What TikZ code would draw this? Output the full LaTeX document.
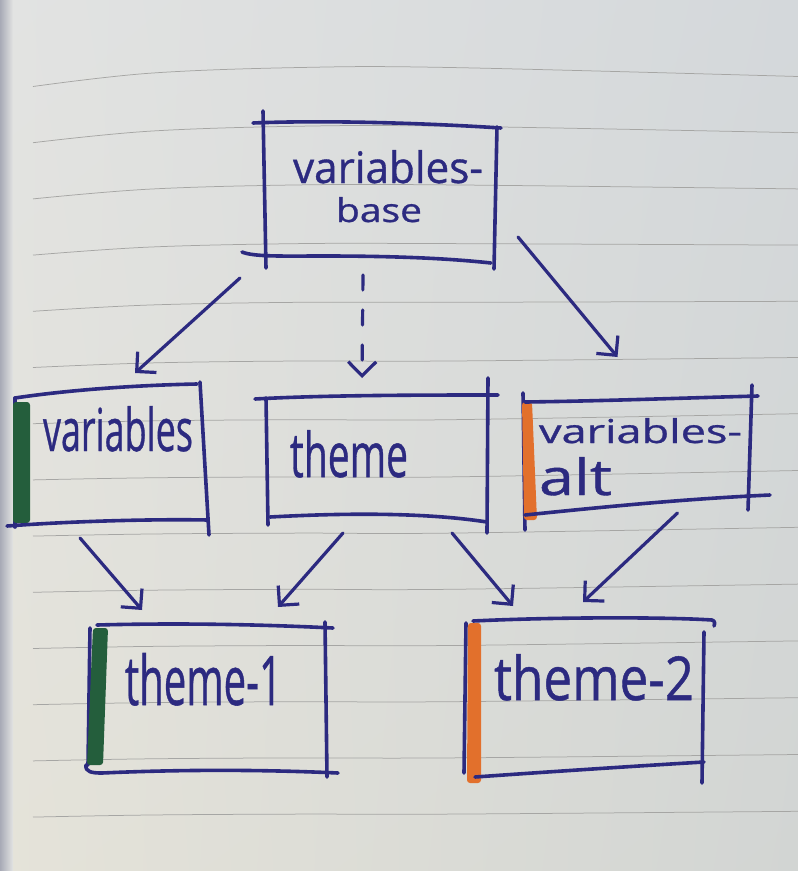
\documentclass[tikz,border=0pt]{standalone}
\usepackage{fontspec}
\usepackage{graphicx}
\setmainfont{Open Sans}
\newfontfamily\penfont[FakeBold=0.8]{Open Sans}
\usetikzlibrary{arrows.meta,calc,shadings}

\definecolor{ink}{RGB}{44,42,128}
\definecolor{markgreen}{RGB}{36,94,60}
\definecolor{markorange}{RGB}{226,112,44}
\definecolor{rulegray}{RGB}{166,166,164}
\definecolor{paperUL}{RGB}{226,227,226}
\definecolor{paperUR}{RGB}{212,216,219}
\definecolor{paperLL}{RGB}{229,227,217}
\definecolor{paperLR}{RGB}{210,213,211}
\definecolor{pageedge}{RGB}{168,170,182}

\begin{document}
\begin{tikzpicture}[x=1pt,y=-1pt,
  frame/.style={rectangle,inner sep=0pt,outer sep=0pt,draw=none},
  pen/.style={draw=ink,line width=3.6pt,line cap=round,line join=round},
  arr/.style={draw=ink,line width=3.2pt,line cap=round,
    -{Straight Barb[length=14pt,width=28pt]}},
  dasharr/.style={arr,dash pattern=on 15pt off 20pt},
  ruling/.style={draw=rulegray,line width=0.75pt},
  word/.style={inner sep=0pt,outer sep=0pt,anchor=base west,text=ink,font=\penfont},
  marker/.style={line join=round,rounded corners=3pt}
]
% paper
\useasboundingbox (0,0) rectangle (798,871);
\shade[upper left=paperUL,upper right=paperUR,lower left=paperLL,lower right=paperLR]
  (0,0) rectangle (798,871);
\shade[left color=pageedge,right color=paperUL] (0,0) rectangle (13,871);

% ruled lines
\foreach \k in {0,...,13} {
  \pgfmathsetmacro\yl{86.5+56.2*\k}
  \pgfmathsetmacro\dd{max(3,19-2.5*\k)}
  \pgfmathsetmacro\rr{(\k<=6) ? 10 : 10-(\k-6)*0.6}
  \draw[ruling] plot[smooth,tension=0.6] coordinates
    {(33,\yl) (150,\yl-0.7*\dd) (300,\yl-\dd) (450,\yl-\dd) (798,\yl-\rr)};
}

% box frames
\node[frame,minimum width=230pt,minimum height=135pt] (vb) at (379,192.5) {};
\node[frame,minimum width=190pt,minimum height=132pt] (v) at (110,457) {};
\node[frame,minimum width=222pt,minimum height=123pt] (t) at (377,458.5) {};
\node[frame,minimum width=229pt,minimum height=106pt] (va) at (637.5,452) {};
\node[frame,minimum width=235pt,minimum height=146pt] (t1) at (209.5,699) {};
\node[frame,minimum width=238pt,minimum height=150pt] (t2) at (585,695) {};

% variables-base
\begin{scope}[shift={(vb.north west)}]
  \draw[pen] (-1,-14) -- (2,143);
  \draw[pen] (-11,-2) .. controls (60,-5) and (160,-2) .. (237,3);
  \draw[pen] (233,2) -- (230,144);
  \draw[pen] (-22,127) .. controls (-10,132) and (20,131) .. (60,131)
    .. controls (140,131) and (190,134) .. (227,138);
\end{scope}

% variables
\begin{scope}[shift={(v.north west)}]
  \draw[pen] (0,7) -- (0,136);
  \fill[markgreen,marker] (-2,11) rectangle (15,132);
  \draw[pen] (0,7) .. controls (60,-2) and (130,-6) .. (182,-7);
  \draw[pen] (185,-9) -- (194,144);
  \draw[pen] (-8,135) .. controls (60,130) and (140,128) .. (193,129);
\end{scope}

% theme
\begin{scope}[shift={(t.north west)}]
  \draw[pen] (-11,2) .. controls (60,-2) and (160,-2) .. (232,-2);
  \draw[pen] (0,1) -- (2,128);
  \draw[pen] (222,-19) -- (221,136);
  \draw[pen] (4,120) .. controls (60,117) and (150,114) .. (221,125);
\end{scope}

% variables-alt
\begin{scope}[shift={(va.north west)}]
  \draw[pen] (0,-6) -- (2,131);
  \fill[markorange,marker] (-1,3) -- (9,3) -- (14,121) -- (1,121) -- cycle;
  \draw[pen] (2,3) .. controls (80,2) and (160,-1) .. (235,-3);
  \draw[pen] (229,-14) -- (225,111);
  \draw[pen] (2,116) .. controls (80,108) and (160,100) .. (247,96);
\end{scope}

% theme-1
\begin{scope}[shift={(t1.north west)}]
  \draw[pen] (-2,2) -- (-4,139);
  \draw[pen] (5,-1) .. controls (80,-3) and (160,-2) .. (241,2);
  \draw[pen] (233,-4) -- (235,151);
  \draw[pen] (-6,139) .. controls (-7,146) and (0,147) .. (10,147)
    .. controls (100,143) and (180,144) .. (246,147);
  \fill[markgreen,marker] (1,2) -- (16,2) -- (11,139) -- (-5,139) -- cycle;
\end{scope}

% theme-2
\begin{scope}[shift={(t2.north west)}]
  \draw[pen] (0,3) -- (-2,153);
  \fill[markorange,marker] (2,3) -- (15,3) -- (15,163) -- (1,163) -- cycle;
  \draw[pen] (7,1) .. controls (90,-3) and (200,-3) .. (246,0)
    .. controls (249,1) and (249,3) .. (248,6);
  \draw[pen] (238,12) -- (236,163);
  \draw[pen] (9,157) .. controls (80,152) and (170,146) .. (238,142);
\end{scope}

% labels
\node[word] (vbw1) at (293,183) {\resizebox{190pt}{33pt}{variables-}};
\node[word] (vbw2) at (336,222) {\resizebox{86pt}{25pt}{base}};
\node[word] (vw)   at (43,451)  {\resizebox{150pt}{45pt}{variables}};
\node[word] (tw)   at (290,477) {\resizebox{118pt}{47pt}{theme}};
\node[word] (vaw1) at (539,443) {\resizebox{203pt}{25pt}{variables-}};
\node[word] (vaw2) at (539,495) {\resizebox{73pt}{38pt}{alt}};
\node[word] (t1w)  at (125,705) {\resizebox{157pt}{52pt}{theme-1}};
\node[word] (t2w)  at (494,700) {\resizebox{200pt}{46pt}{theme-2}};

% dependencies
\draw[arr] ($(vb.south west)+(-24,18)$) -- ($(v.north)+(25,-18)$);
\draw[dasharr] ($(vb.south)+(-16,15)$) -- ($(t.north)+(-15,-19)$);
\draw[arr] ($(vb.south east)+(24,-23)$) -- ($(va.north)+(-20,-42)$);
\draw[arr] ($(v.south)+(-30,15)$) -- ($(t1.north west)+(50,-16)$);
\draw[arr] ($(t.south)+(-34,13)$) -- ($(t1.north east)+(-49,-19)$);
\draw[arr] ($(t.south)+(75,13)$) -- ($(t2.north)+(-72,-14)$);
\draw[arr] ($(va.south)+(40,8)$) -- ($(t2.north)+(-2,-18)$);
\end{tikzpicture}
\end{document}
